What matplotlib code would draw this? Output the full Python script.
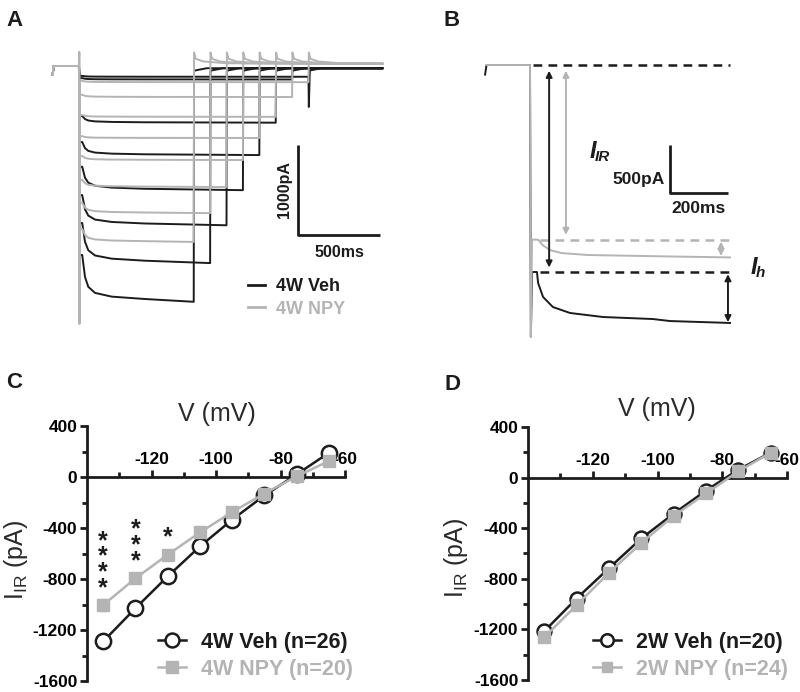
import numpy as np
import matplotlib
matplotlib.use("Agg")
from matplotlib import pyplot as plt
from matplotlib.lines import Line2D

plt.rcParams["font.family"] = ["Liberation Sans", "DejaVu Sans"]
plt.rcParams["axes.unicode_minus"] = False

BLACK = "#1c1c1c"
GRAY = "#b4b4b4"

# ---- A: current traces for the voltage steps (ms / pA) ----
step_end_ms = [700, 800, 900, 1000, 1100, 1200, 1300, 1400]
veh_initial = [-2100, -1745, -1435, -1120, -845, -555, -135, -110]
veh_steady = [-2620, -2190, -1770, -1380, -990, -630, -150, -120]
veh_tail = [-60, -60, -60, -60, -60, -60, -60, -455]
npy_initial = [-1810, -1520, -1265, -1000, -780, -545, -320, -165]
npy_steady = [-1955, -1635, -1345, -1045, -800, -565, -345, -180]
# Ih relaxation (fraction initial -> steady)
relax_ms = [20, 37, 57, 98, 200, 400]
relax_frac = [0, 0.47, 0.68, 0.81, 0.89, 0.94]

# ---- B: one example step ----
b_veh_t = [-155, -150, -145, 0, 3, 7, 24, 28, 45, 79, 138, 252, 424, 483, 690]
b_veh_i = [-100, 0, 0, 0, -2830, -2157, -2157, -2272, -2417, -2522, -2584, -2626, -2647, -2668, -2688]
b_npy_t = [-150, 0, 3, 7, 28, 45, 70, 110, 200, 480, 690]
b_npy_i = [0, 0, -2830, -1820, -1820, -1880, -1930, -1960, -1980, -1995, -2005]
b_npy_peak = -1823
b_veh_peak = -2157

# ---- C / D: I-V curves ----
volts = [-135, -125, -115, -105, -95, -85, -75, -65]
c_veh = [-1290, -1030, -780, -545, -335, -145, 20, 190]
c_veh_sem = [55, 40, 35, 30, 25, 20, 15, 20]
c_npy = [-1005, -795, -610, -435, -275, -130, 5, 125]
c_npy_sem = [45, 35, 30, 25, 20, 15, 10, 15]
c_stars = ["****", "***", "*"]
d_veh = [-1215, -956, -716, -481, -285, -102, 63, 198]
d_veh_sem = [40, 35, 30, 25, 20, 15, 15, 20]
d_npy = [-1262, -1009, -753, -517, -303, -125, 50, 198]
d_npy_sem = [40, 35, 30, 25, 20, 15, 15, 20]

W, H = 800, 692
fig = plt.figure(figsize=(8, 6.92), dpi=100)


def fx(px):
    return px / W


def fy(py):
    return 1 - py / H


def trace(i0, iss, t_end, gray, tail):
    t = [-160, -155, 0]
    y = [-100, 0, 0]
    if gray:
        t += [1, 3]
        y += [150, -2860]
    t.append(5)
    y.append(i0)
    for rt, rf in zip(relax_ms, relax_frac):
        if rt < t_end:
            t.append(rt)
            y.append(i0 + rf * (iss - i0))
    t.append(t_end)
    y.append(iss)
    if gray:
        t += [t_end + 2, t_end + 12, t_end + 60, t_end + 200, 1850]
        y += [150, 80, 50, 30, 25]
    else:
        t += [t_end + 2, t_end + 8, t_end + 80, 1850]
        y += [tail, -50, -25, -25]
    return t, y


# ---------------- panel A ----------------
ax_a = fig.add_axes([fx(45), fy(335), fx(345), 290 / H])
ax_a.set_xlim(-207, 1897)
ax_a.set_ylim(-2989, 233)
ax_a.axis("off")
for k in range(len(step_end_ms)):
    t, y = trace(veh_initial[k], veh_steady[k], step_end_ms[k], False, veh_tail[k])
    ax_a.plot(t, y, color=BLACK, lw=1.4)
for k in range(len(step_end_ms)):
    t, y = trace(npy_initial[k], npy_steady[k], step_end_ms[k], True, 0)
    ax_a.plot(t, y, color=GRAY, lw=1.4)

# scale bar 1000 pA / 500 ms
ax_a.plot([1336, 1336, 1836], [-878, -1878, -1878], color=BLACK, lw=2, solid_capstyle="butt")
ax_a.text(1255, -1378, "1000pA", rotation=90, ha="center", va="center",
          fontsize=11.5, fontweight="bold", color=BLACK)
ax_a.text(1586, -1990, "500ms", ha="center", va="top", fontsize=11.5,
          fontweight="bold", color=BLACK)
ax_a.legend(handles=[Line2D([], [], color=BLACK, lw=2), Line2D([], [], color=GRAY, lw=2)],
            labels=["4W Veh", "4W NPY"], labelcolor=[BLACK, GRAY],
            prop={"weight": "bold", "size": 13}, frameon=False,
            loc="upper left", bbox_to_anchor=(fx(248), fy(278)),
            bbox_transform=fig.transFigure, borderpad=0, borderaxespad=0,
            handlelength=0.95, handletextpad=0.6, labelspacing=0.32)

# ---------------- panel B ----------------
ax_b = fig.add_axes([fx(470), fy(345), fx(320), 300 / H])
ax_b.set_xlim((470 - 530) * 3.45, (790 - 530) * 3.45)
ax_b.set_ylim((65 - 345) * 10.42, (65 - 45) * 10.42)
ax_b.axis("off")
ax_b.plot(b_veh_t, b_veh_i, color=BLACK, lw=1.4)
ax_b.plot(b_npy_t, b_npy_i, color=GRAY, lw=1.4)
ax_b.plot([10, 690], [0, 0], color=BLACK, lw=1.8, ls=(0, (3.5, 2.5)))
ax_b.plot([35, 690], [b_npy_peak, b_npy_peak], color=GRAY, lw=1.8, ls=(0, (3.5, 2.5)))
ax_b.plot([35, 690], [b_veh_peak, b_veh_peak], color=BLACK, lw=1.8, ls=(0, (3.5, 2.5)))
arrow_kw = dict(arrowstyle="<|-|>", mutation_scale=9, lw=1.4, shrinkA=0, shrinkB=0)
ax_b.annotate("", xy=(66, -60), xytext=(66, -2110), arrowprops=dict(color=BLACK, **arrow_kw))
ax_b.annotate("", xy=(124, -60), xytext=(124, -1770), arrowprops=dict(color=GRAY, **arrow_kw))
ax_b.annotate("", xy=(659, -1840), xytext=(659, -1990), arrowprops=dict(color=GRAY, **arrow_kw))
ax_b.annotate("", xy=(683, -2180), xytext=(683, -2680), arrowprops=dict(color=BLACK, **arrow_kw))
ax_b.plot([483, 483, 683], [-834, -1334, -1334], color=BLACK, lw=2, solid_capstyle="butt")
ax_b.text(465, -1190, "500pA", ha="right", va="center", fontsize=12.5,
          fontweight="bold", color=BLACK)
ax_b.text(583, -1420, "200ms", ha="center", va="top", fontsize=12.5,
          fontweight="bold", color=BLACK)
fig.text(fx(596), fy(152), "I", ha="right", va="center", fontsize=17,
         fontweight="bold", fontstyle="italic", color=BLACK)
fig.text(fx(595), fy(157), "IR", ha="left", va="center", fontsize=11,
         fontweight="bold", fontstyle="italic", color=BLACK)
fig.text(fx(757), fy(267), "I", ha="right", va="center", fontsize=17,
         fontweight="bold", fontstyle="italic", color=BLACK)
fig.text(fx(756), fy(273), "h", ha="left", va="center", fontsize=11,
         fontweight="bold", fontstyle="italic", color=BLACK)


# ---------------- panels C / D ----------------
def iv_axes(rect, veh, veh_sem, npy, npy_sem, veh_lab, npy_lab, msize, leg_x):
    ax = fig.add_axes(rect)
    ax.set_xlim(-140, -60)
    ax.set_ylim(-1600, 400)
    for s in ["right", "bottom"]:
        ax.spines[s].set_visible(False)
    ax.spines["top"].set_position(("data", 0))
    for s in ["top", "left"]:
        ax.spines[s].set_linewidth(2)
        ax.spines[s].set_color(BLACK)
    ax.xaxis.set_ticks_position("top")
    ax.set_xticks([-120, -100, -80, -60])
    ax.set_xticks([-130, -110, -90, -70], minor=True)
    ax.set_yticks(np.arange(-1600, 401, 400))
    ax.set_yticks(np.arange(-1600, 401, 200), minor=True)
    ax.tick_params(which="major", length=5, width=2, color=BLACK, labelsize=12.5, pad=2)
    ax.tick_params(which="minor", length=3.5, width=2, color=BLACK)
    ax.tick_params(axis="x", which="both", direction="out")
    for lab in ax.get_xticklabels() + ax.get_yticklabels():
        lab.set_fontweight("bold")
    ax.patch.set_visible(False)
    ax.errorbar(volts, veh, yerr=veh_sem, color=BLACK, lw=1.8, marker="o", ms=msize,
                mfc="white", mec=BLACK, mew=1.8, capsize=2.5, elinewidth=1.5,
                clip_on=False, zorder=3)
    ax.errorbar(volts, npy, yerr=npy_sem, color=GRAY, lw=1.8, marker="s", ms=msize - 2,
                mfc=GRAY, mec=GRAY, capsize=2.5, elinewidth=1.5,
                clip_on=False, zorder=4)
    handles = [Line2D([], [], color=BLACK, lw=1.8, marker="o", ms=msize - 1, mfc="white",
                      mec=BLACK, mew=1.8),
               Line2D([], [], color=GRAY, lw=1.8, marker="s", ms=msize - 3, mfc=GRAY, mec=GRAY)]
    ax.legend(handles, [veh_lab, npy_lab], labelcolor=[BLACK, GRAY],
              prop={"weight": "bold", "size": 15.5}, frameon=False, loc="upper left",
              bbox_to_anchor=(fx(leg_x), fy(632)), bbox_transform=fig.transFigure,
              borderpad=0, borderaxespad=0, handlelength=1.3, handletextpad=0.7,
              labelspacing=0.28, numpoints=1)
    return ax


ax_c = iv_axes([fx(87), fy(681), 258 / W, 255 / H], c_veh, c_veh_sem, c_npy, c_npy_sem,
               "4W Veh (n=26)", "4W NPY (n=20)", 11, 158)
for k, stars in enumerate(c_stars):
    ax_c.annotate("\n".join(stars), xy=(volts[k], c_npy[k]), xytext=(0, 3.8),
                  textcoords="offset points", ha="center", va="bottom", linespacing=0.56,
                  fontsize=18, fontweight="bold", color=BLACK)
ax_d = iv_axes([fx(528), fy(680), 259 / W, 253 / H], d_veh, d_veh_sem, d_npy, d_npy_sem,
               "2W Veh (n=20)", "2W NPY (n=24)", 10, 593)

fig.text(fx(217), fy(414), "V (mV)", ha="center", va="center", fontsize=18, color="#2a2a2a")
fig.text(fx(657), fy(409), "V (mV)", ha="center", va="center", fontsize=18, color="#2a2a2a")
fig.text(fx(16), fy(560), r"I$_{\mathregular{IR}}$ (pA)", rotation=90, ha="center",
         va="center", fontsize=18, color="#2a2a2a")
fig.text(fx(456), fy(558), r"I$_{\mathregular{IR}}$ (pA)", rotation=90, ha="center",
         va="center", fontsize=18, color="#2a2a2a")

for lab, x, y in [("A", 14, 21), ("B", 452, 21), ("C", 14, 383), ("D", 453, 385)]:
    fig.text(fx(x), fy(y), lab, ha="center", va="center", fontsize=16,
             fontweight="bold", color=BLACK)

fig.savefig("out.png", dpi=100)
